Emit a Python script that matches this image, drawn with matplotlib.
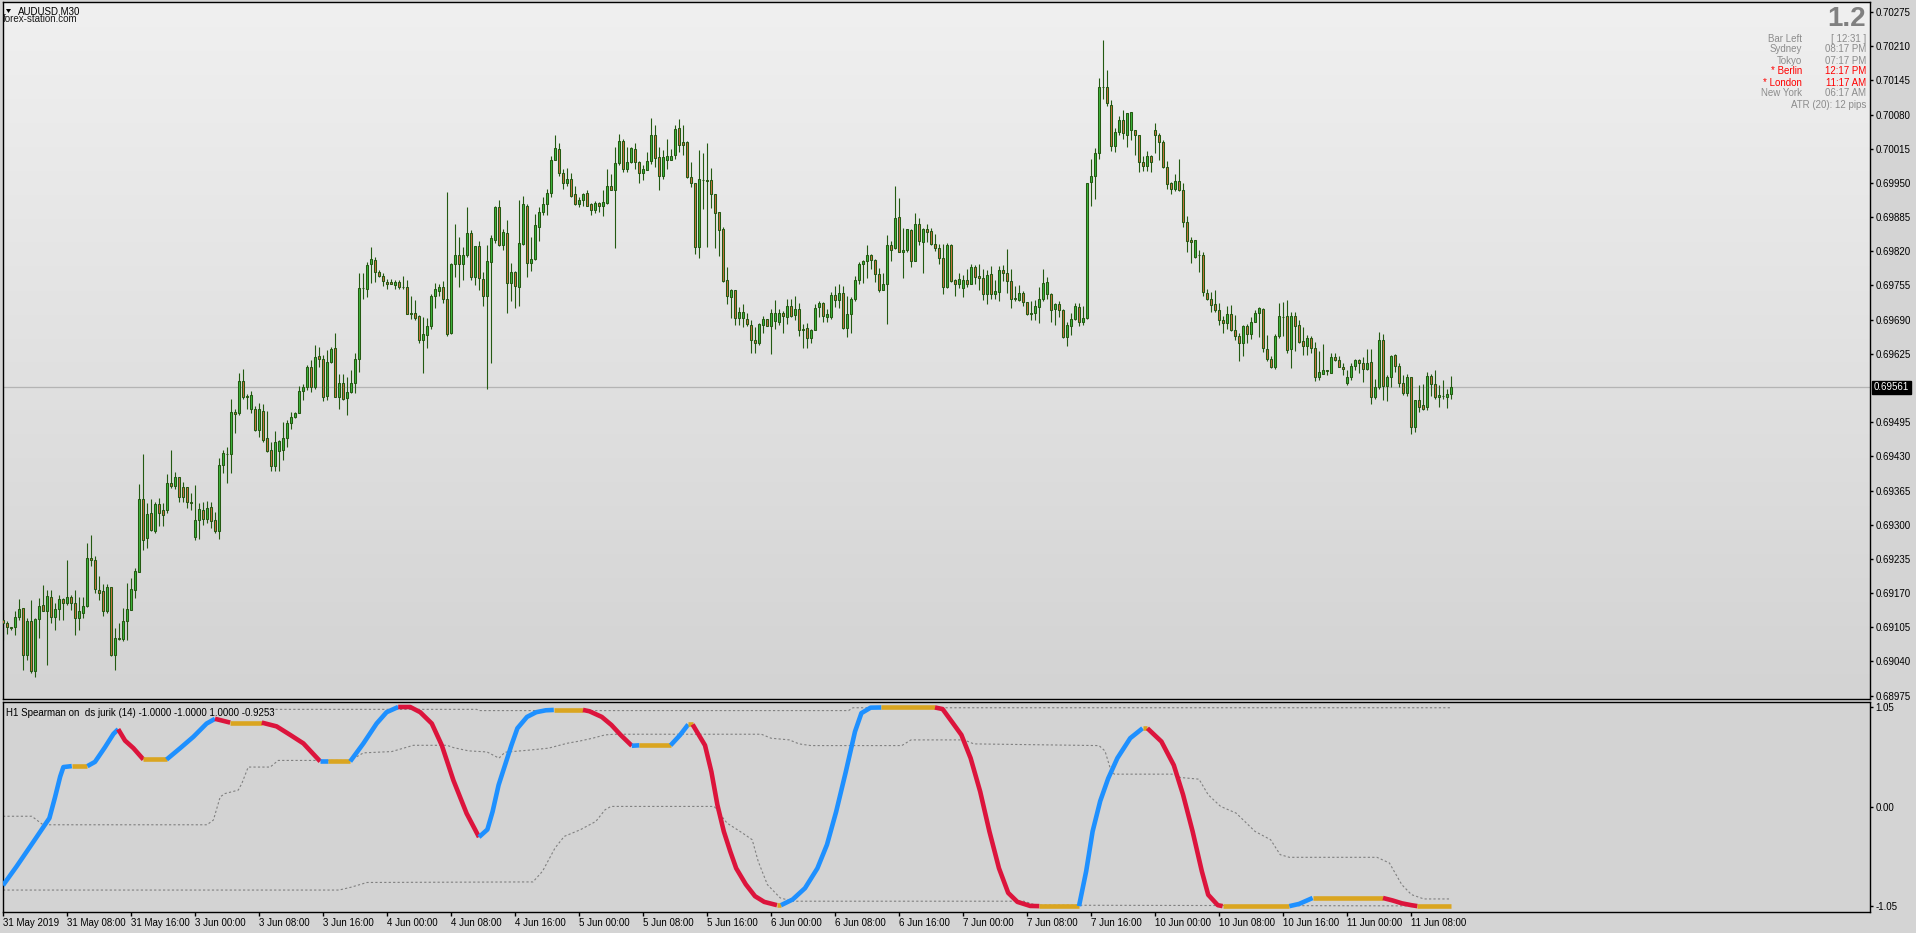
"""
AUDUSD M30 candlestick chart with an H1 Spearman (jurik) sub-window, MT4 style.
"""
import numpy as np
import matplotlib
matplotlib.use("Agg")
import matplotlib.pyplot as plt
from matplotlib.colors import LinearSegmentedColormap
from matplotlib.patches import Polygon

plt.rcParams["font.family"] = ["Liberation Sans", "DejaVu Sans"]

# ---- price data, in points (1e-5), one entry per M30 bar from 31 May 00:00 ----
opens = [
    69119, 69113, 69105, 69105, 69124, 69141, 69052, 69116, 69021, 69120,
    69147, 69136, 69162, 69124, 69139, 69159, 69151, 69163, 69152, 69122,
    69133, 69146, 69236, 69232, 69176, 69174, 69135, 69181, 69052, 69085,
    69082, 69117, 69138, 69176, 69211, 69349, 69274, 69322, 69288, 69339,
    69328, 69328, 69379, 69374, 69390, 69371, 69371, 69343, 69277, 69309,
    69328, 69310, 69333, 69309, 69289, 69413, 69434, 69434, 69515, 69512,
    69574, 69545, 69521, 69521, 69481, 69517, 69464, 69442, 69412, 69441,
    69443, 69464, 69493, 69504, 69513, 69555, 69561, 69600, 69561, 69620,
    69616, 69545, 69609, 69637, 69543, 69569, 69541, 69553, 69570, 69616,
    69750, 69749, 69795, 69804, 69780, 69773, 69762, 69762, 69756, 69762,
    69752, 69753, 69702, 69702, 69696, 69652, 69660, 69677, 69735, 69745,
    69753, 69730, 69664, 69795, 69812, 69795, 69812, 69854, 69771, 69830,
    69768, 69735, 69799, 69842, 69904, 69832, 69854, 69759, 69780, 69752,
    69833, 69907, 69798, 69805, 69867, 69895, 69909, 69931, 69994, 70015,
    69968, 69949, 69958, 69928, 69909, 69918, 69931, 69909, 69899, 69911,
    69906, 69912, 69944, 69936, 69987, 70029, 69977, 69989, 70015, 69989,
    69968, 69975, 69992, 70042, 69999, 69963, 69994, 69994, 70003, 70055,
    70027, 70027, 69961, 69949, 69828, 69956, 69956, 69955, 69928, 69894,
    69863, 69765, 69733, 69746, 69693, 69693, 69692, 69679, 69652, 69645,
    69680, 69692, 69678, 69688, 69686, 69702, 69695, 69716, 69698, 69711,
    69671, 69675, 69656, 69671, 69714, 69721, 69695, 69695, 69736, 69728,
    69740, 69674, 69700, 69730, 69766, 69795, 69801, 69812, 69803, 69776,
    69746, 69757, 69831, 69827, 69885, 69819, 69823, 69861, 69802, 69871,
    69838, 69863, 69858, 69833, 69827, 69808, 69752, 69831, 69765, 69757,
    69750, 69766, 69757, 69791, 69773, 69770, 69739, 69776, 69738, 69743,
    69784, 69779, 69763, 69730, 69728, 69740, 69723, 69700, 69702, 69714,
    69730, 69738, 69738, 69710, 69719, 69709, 69657, 69678, 69691, 69714,
    69686, 69694, 69951, 69963, 70007, 70132, 70132, 70099, 70020, 70047,
    70070, 70042, 70050, 70050, 70042, 69989, 69982, 70001, 70050, 70042,
    70027, 69980, 69949, 69939, 69954, 69937, 69875, 69841, 69809, 69812,
    69812, 69740, 69730, 69719, 69709, 69690, 69684, 69700, 69671, 69659,
    69646, 69678, 69662, 69686, 69703, 69711, 69635, 69616, 69600, 69659,
    69695, 69697, 69635, 69697, 69679, 69649, 69640, 69656, 69637, 69580,
    69587, 69594, 69589, 69618, 69613, 69599, 69569, 69581, 69601, 69613,
    69608, 69597, 69610, 69542, 69561, 69651, 69564, 69581, 69622, 69601,
    69569, 69550, 69580, 69485, 69537, 69528, 69523, 69582, 69568, 69542,
    69545, 69543, 69548,
]
highs = [
    69135, 69116, 69106, 69135, 69158, 69141, 69122, 69157, 69122, 69160,
    69185, 69176, 69176, 69151, 69166, 69160, 69233, 69166, 69176, 69163,
    69163, 69265, 69280, 69241, 69202, 69188, 69187, 69182, 69103, 69113,
    69141, 69190, 69198, 69218, 69377, 69434, 69341, 69348, 69344, 69351,
    69342, 69396, 69443, 69400, 69390, 69382, 69371, 69360, 69376, 69342,
    69344, 69345, 69344, 69325, 69426, 69443, 69448, 69540, 69521, 69588,
    69597, 69548, 69555, 69526, 69531, 69529, 69517, 69458, 69478, 69462,
    69496, 69499, 69515, 69515, 69564, 69567, 69604, 69613, 69641, 69638,
    69622, 69632, 69638, 69664, 69586, 69586, 69581, 69594, 69627, 69778,
    69778, 69799, 69828, 69809, 69785, 69778, 69768, 69768, 69765, 69765,
    69773, 69765, 69735, 69727, 69698, 69695, 69694, 69738, 69759, 69757,
    69763, 69932, 69798, 69871, 69847, 69828, 69904, 69861, 69830, 69839,
    69780, 69831, 69851, 69907, 69917, 69862, 69879, 69797, 69783, 69917,
    69926, 69909, 69847, 69890, 69904, 69924, 69939, 70001, 70041, 70025,
    69977, 69979, 69968, 69944, 69923, 69931, 69936, 69912, 69915, 69914,
    69937, 69976, 69966, 70018, 70043, 70034, 70018, 70018, 70025, 69992,
    69984, 70009, 70074, 70060, 70018, 70012, 70034, 70015, 70061, 70072,
    70061, 70029, 69989, 69949, 70012, 70006, 70025, 69979, 69928, 69894,
    69866, 69790, 69749, 69746, 69714, 69719, 69702, 69689, 69676, 69683,
    69697, 69692, 69711, 69728, 69711, 69706, 69729, 69730, 69735, 69722,
    69681, 69684, 69673, 69719, 69726, 69724, 69710, 69742, 69754, 69757,
    69754, 69735, 69733, 69773, 69799, 69803, 69831, 69814, 69806, 69789,
    69779, 69850, 69840, 69944, 69922, 69864, 69863, 69863, 69892, 69884,
    69865, 69871, 69865, 69852, 69833, 69833, 69835, 69833, 69768, 69778,
    69774, 69787, 69796, 69793, 69795, 69786, 69784, 69792, 69765, 69792,
    69793, 69824, 69787, 69754, 69755, 69744, 69723, 69726, 69727, 69752,
    69786, 69771, 69740, 69722, 69725, 69711, 69686, 69702, 69721, 69721,
    69716, 69949, 69995, 70016, 70150, 70221, 70165, 70108, 70055, 70078,
    70089, 70083, 70085, 70050, 70042, 70001, 70010, 70004, 70063, 70044,
    70031, 69991, 69952, 69966, 69995, 69949, 69887, 69847, 69841, 69822,
    69819, 69748, 69743, 69747, 69721, 69697, 69716, 69717, 69698, 69664,
    69679, 69681, 69695, 69709, 69714, 69712, 69660, 69621, 69662, 69721,
    69724, 69727, 69705, 69705, 69689, 69676, 69660, 69659, 69648, 69630,
    69643, 69594, 69627, 69627, 69621, 69608, 69594, 69608, 69616, 69615,
    69618, 69634, 69635, 69578, 69666, 69662, 69584, 69622, 69624, 69607,
    69584, 69586, 69581, 69537, 69565, 69568, 69591, 69586, 69594, 69565,
    69576, 69559, 69582,
]
lows = [
    69081, 69093, 69100, 69090, 69119, 69024, 69043, 69018, 69011, 69084,
    69135, 69033, 69114, 69100, 69119, 69118, 69147, 69138, 69090, 69100,
    69123, 69144, 69221, 69171, 69157, 69126, 69132, 69050, 69024, 69081,
    69078, 69081, 69137, 69160, 69210, 69252, 69255, 69289, 69285, 69298,
    69298, 69323, 69369, 69368, 69344, 69344, 69331, 69328, 69271, 69273,
    69299, 69304, 69293, 69284, 69273, 69399, 69380, 69399, 69474, 69508,
    69540, 69521, 69512, 69479, 69467, 69458, 69439, 69403, 69403, 69403,
    69423, 69448, 69482, 69502, 69512, 69537, 69557, 69553, 69559, 69600,
    69536, 69538, 69607, 69543, 69521, 69538, 69508, 69550, 69551, 69591,
    69730, 69733, 69760, 69762, 69771, 69754, 69749, 69757, 69748, 69749,
    69748, 69700, 69691, 69689, 69645, 69589, 69636, 69673, 69713, 69735,
    69721, 69659, 69662, 69771, 69752, 69766, 69809, 69765, 69755, 69746,
    69716, 69559, 69608, 69836, 69830, 69822, 69703, 69726, 69713, 69716,
    69831, 69771, 69783, 69804, 69840, 69889, 69889, 69923, 69993, 69963,
    69939, 69944, 69923, 69908, 69904, 69906, 69906, 69889, 69893, 69895,
    69887, 69910, 69936, 69826, 69984, 69971, 69971, 69987, 69976, 69949,
    69956, 69974, 69985, 69980, 69937, 69958, 69976, 69993, 69995, 70009,
    70004, 69960, 69942, 69814, 69807, 69901, 69828, 69902, 69826, 69811,
    69762, 69719, 69693, 69679, 69679, 69676, 69678, 69626, 69627, 69641,
    69665, 69677, 69624, 69673, 69680, 69665, 69681, 69695, 69690, 69659,
    69636, 69636, 69645, 69670, 69695, 69686, 69686, 69692, 69714, 69713,
    69672, 69657, 69665, 69726, 69757, 69759, 69769, 69787, 69761, 69743,
    69746, 69681, 69802, 69825, 69818, 69769, 69819, 69790, 69802, 69832,
    69779, 69838, 69832, 69820, 69795, 69738, 69751, 69762, 69735, 69750,
    69733, 69752, 69757, 69757, 69746, 69727, 69719, 69730, 69730, 69726,
    69764, 69740, 69712, 69725, 69725, 69716, 69698, 69689, 69690, 69684,
    69726, 69730, 69686, 69680, 69695, 69655, 69640, 69660, 69689, 69678,
    69679, 69692, 69907, 69920, 69995, 70110, 70096, 70011, 70009, 70042,
    70034, 70018, 70031, 70004, 69971, 69973, 69973, 69971, 70006, 69993,
    69979, 69938, 69928, 69935, 69935, 69866, 69819, 69798, 69808, 69781,
    69735, 69727, 69705, 69705, 69680, 69665, 69673, 69668, 69651, 69612,
    69621, 69645, 69653, 69685, 69657, 69629, 69612, 69598, 69597, 69656,
    69659, 69627, 69598, 69631, 69646, 69622, 69622, 69626, 69574, 69576,
    69586, 69584, 69588, 69611, 69599, 69584, 69565, 69576, 69595, 69589,
    69572, 69595, 69529, 69540, 69559, 69538, 69536, 69562, 69591, 69562,
    69546, 69545, 69472, 69477, 69515, 69518, 69518, 69545, 69540, 69524,
    69540, 69522, 69540,
]
closes = [
    69114, 69105, 69103, 69124, 69139, 69052, 69117, 69021, 69120, 69145,
    69136, 69164, 69124, 69139, 69158, 69151, 69163, 69152, 69122, 69136,
    69146, 69236, 69232, 69177, 69171, 69136, 69181, 69052, 69084, 69082,
    69117, 69139, 69177, 69212, 69349, 69271, 69320, 69290, 69339, 69322,
    69318, 69379, 69374, 69390, 69353, 69353, 69343, 69341, 69309, 69329,
    69310, 69331, 69308, 69288, 69413, 69436, 69435, 69515, 69510, 69574,
    69542, 69542, 69546, 69481, 69520, 69461, 69441, 69412, 69457, 69459,
    69464, 69493, 69504, 69513, 69555, 69561, 69600, 69561, 69619, 69616,
    69543, 69609, 69635, 69543, 69570, 69540, 69553, 69570, 69616, 69750,
    69750, 69793, 69806, 69781, 69773, 69764, 69758, 69758, 69762, 69752,
    69752, 69701, 69701, 69693, 69652, 69662, 69677, 69735, 69748, 69752,
    69730, 69662, 69795, 69812, 69795, 69813, 69854, 69771, 69830, 69770,
    69735, 69801, 69845, 69904, 69831, 69856, 69759, 69780, 69754, 69835,
    69909, 69798, 69806, 69869, 69895, 69909, 69931, 69994, 70017, 69968,
    69949, 69958, 69925, 69909, 69917, 69929, 69907, 69899, 69911, 69906,
    69913, 69944, 69937, 69987, 70029, 69977, 69989, 70016, 69989, 69968,
    69977, 69992, 70042, 69998, 69963, 69999, 70002, 70002, 70053, 70023,
    70022, 69961, 69950, 69828, 69957, 69956, 69954, 69928, 69893, 69860,
    69764, 69735, 69746, 69693, 69705, 69704, 69681, 69652, 69645, 69681,
    69692, 69678, 69702, 69702, 69702, 69697, 69716, 69697, 69711, 69671,
    69671, 69656, 69670, 69713, 69721, 69697, 69700, 69736, 69728, 69740,
    69674, 69700, 69730, 69766, 69795, 69801, 69812, 69803, 69776, 69747,
    69757, 69831, 69823, 69884, 69819, 69823, 69862, 69802, 69871, 69840,
    69863, 69857, 69833, 69826, 69808, 69752, 69831, 69764, 69757, 69768,
    69766, 69757, 69791, 69771, 69769, 69739, 69774, 69739, 69744, 69784,
    69779, 69763, 69730, 69730, 69740, 69723, 69700, 69703, 69716, 69730,
    69759, 69761, 69709, 69719, 69709, 69657, 69679, 69691, 69716, 69685,
    69694, 69949, 69963, 70006, 70132, 70132, 70101, 70020, 70047, 70070,
    70044, 70082, 70084, 70042, 69989, 69982, 70001, 69989, 70042, 70027,
    69980, 69947, 69939, 69954, 69936, 69875, 69840, 69838, 69841, 69812,
    69742, 69730, 69717, 69708, 69690, 69683, 69700, 69671, 69659, 69646,
    69678, 69662, 69686, 69702, 69712, 69636, 69616, 69600, 69659, 69697,
    69695, 69633, 69697, 69677, 69648, 69640, 69656, 69636, 69580, 69590,
    69594, 69592, 69618, 69613, 69600, 69597, 69580, 69601, 69613, 69608,
    69597, 69608, 69542, 69561, 69652, 69564, 69581, 69621, 69601, 69569,
    69550, 69580, 69485, 69537, 69524, 69520, 69582, 69568, 69542, 69546,
    69545, 69548, 69561,
]

# right price scale
price_ticks = [0.70275, 0.70210, 0.70145, 0.70080, 0.70015, 0.69950, 0.69885,
               0.69820, 0.69755, 0.69690, 0.69625, 0.69495, 0.69430, 0.69365,
               0.69300, 0.69235, 0.69170, 0.69105, 0.69040, 0.68975]

# time axis labels (bar index of each label)
time_bars = [0, 16, 32, 48, 64, 80, 96, 112, 128, 144, 160, 176, 192, 208,
             224, 240, 256, 272, 288, 304, 320, 336, 352]
time_labels = ["31 May 2019", "31 May 08:00", "31 May 16:00", "3 Jun 00:00",
               "3 Jun 08:00", "3 Jun 16:00", "4 Jun 00:00", "4 Jun 08:00",
               "4 Jun 16:00", "5 Jun 00:00", "5 Jun 08:00", "5 Jun 16:00",
               "6 Jun 00:00", "6 Jun 08:00", "6 Jun 16:00", "7 Jun 00:00",
               "7 Jun 08:00", "7 Jun 16:00", "10 Jun 00:00", "10 Jun 08:00",
               "10 Jun 16:00", "11 Jun 00:00", "11 Jun 08:00"]

# ---- Spearman indicator (vertices in bar units) ----
sp_bar = [0.0, 3.4, 7.6, 11.6, 13.0, 14.3, 15.1, 17.2, 21.1, 23.0,
          25.5, 27.6, 28.8, 30.5, 32.6, 35.1, 40.9, 44.3, 47.6, 50.9,
          53.0, 56.8, 64.7, 68.4, 71.8, 75.1, 79.3, 81.3, 86.8, 90.1,
          93.4, 95.9, 98.8, 101.8, 104.3, 107.2, 109.7, 112.6, 115.9, 119.0,
          121.1, 122.4, 123.9, 125.5, 127.1, 128.6, 131.0, 133.3, 135.7, 137.7,
          145.0, 146.6, 149.7, 152.1, 154.4, 157.2, 159.1, 166.9, 169.3, 171.3,
          172.4, 175.5, 177.1, 178.6, 180.2, 181.8, 183.3, 185.7, 188.0, 190.3,
          193.5, 194.5, 197.4, 200.5, 203.6, 206.0, 208.3, 210.7, 213.0, 214.6,
          216.9, 219.6, 233.0, 234.9, 237.2, 239.6, 241.9, 244.3, 246.6, 249.0,
          251.3, 253.6, 256.8, 259.1, 269.0, 270.8, 272.4, 274.3, 276.3, 278.6,
          281.8, 284.9, 286.1, 289.6, 292.7, 295.0, 297.4, 299.7, 301.3, 303.7,
          304.9, 321.6, 324.0, 327.4, 345.0, 347.4, 349.7, 352.1, 353.6, 362.0]
sp_val = [-0.83, -0.63, -0.37, -0.12, 0.10, 0.32, 0.42, 0.43, 0.43, 0.475,
          0.63, 0.77, 0.82, 0.70, 0.62, 0.50, 0.50, 0.62, 0.74, 0.88,
          0.93, 0.89, 0.89, 0.85, 0.76, 0.67, 0.48, 0.48, 0.48, 0.67,
          0.88, 1.00, 1.055, 1.055, 1.00, 0.88, 0.65, 0.28, -0.07, -0.32,
          -0.24, -0.05, 0.23, 0.44, 0.65, 0.83, 0.95, 1.00, 1.02, 1.024,
          1.024, 1.01, 0.95, 0.865, 0.76, 0.645, 0.65, 0.65, 0.76, 0.87,
          0.87, 0.65, 0.37, 0.02, -0.26, -0.47, -0.65, -0.82, -0.945, -1.005,
          -1.04, -1.04, -0.98, -0.86, -0.65, -0.40, -0.05, 0.37, 0.795, 0.99,
          1.048, 1.05, 1.05, 1.033, 0.90, 0.76, 0.515, 0.16, -0.26, -0.65,
          -0.91, -1.005, -1.048, -1.05, -1.05, -0.68, -0.26, 0.06, 0.30, 0.515,
          0.725, 0.83, 0.83, 0.69, 0.44, 0.13, -0.26, -0.68, -0.93, -1.04,
          -1.05, -1.05, -1.027, -0.964, -0.964, -0.99, -1.02, -1.04, -1.05, -1.05]
# state of each segment: b = rising, r = falling, o = flat
sp_state = ("bbbbbbb" "o" "bbbb" "rrr" "o" "bbbb" "r" "o" "rrrr" "b" "o" "bbbb"
            "rrrrrrr" "bbbbbbbbbb" "o" "rrrrr" "b" "o" "bb" "o" "rrrrrrrrrr" "o"
            "bbbbbbbbbb" "o" "rrrrrrrrrrr" "o" "bbbbbbb" "o" "rrrrrrrr" "o" "bb"
            "o" "rrrr" "o")

# dotted level lines
top_bar = [65.9, 118.4, 119.0, 211.4, 212.5, 362]
top_val = [1.03, 1.03, 1.017, 1.017, 1.047, 1.047]
mid_bar = [0, 7.2, 10, 51, 52.6, 54.3, 55.5, 58.8, 59.7, 61.3,
           66.8, 68.8, 86.8, 90.1, 97.2, 102.6, 111, 112.6, 116.4, 121,
           124, 125.5, 131.8, 136.4, 141.1, 144.3, 147.4, 150.5, 152.8, 189.6,
           192, 196.6, 199, 202, 224.7, 227, 240.3, 242.7, 274, 275.5,
           276.8, 277.8, 292.7, 294.3, 299, 301.3, 304.4, 308.3, 313, 316.9,
           319.3, 321.6, 343.5, 346.6, 349.7, 352.1, 355.2, 362]
mid_val = [-0.10, -0.10, -0.19, -0.19, -0.14, 0.105, 0.14, 0.176, 0.246, 0.42,
           0.42, 0.49, 0.49, 0.57, 0.584, 0.65, 0.65, 0.626, 0.591, 0.58,
           0.514, 0.577, 0.60, 0.62, 0.672, 0.696, 0.725, 0.76, 0.767, 0.767,
           0.725, 0.707, 0.665, 0.647, 0.647, 0.707, 0.707, 0.665, 0.647, 0.59,
           0.408, 0.345, 0.345, 0.31, 0.292, 0.127, 0.004, -0.067, -0.26, -0.348,
           -0.506, -0.534, -0.534, -0.594, -0.823, -0.928, -0.974, -0.974]
low_bar = [0, 84, 87, 91, 132.5, 134.9, 138, 140.3, 144.3, 148.2, 150.5, 152,
           177.8, 181, 184.9, 187.3, 188.8, 191.1, 194.3, 197.4, 255.2, 258.3, 362]
low_val = [-0.88, -0.88, -0.85, -0.80, -0.794, -0.68, -0.436, -0.313, -0.243,
           -0.155, -0.032, 0.004, 0.004, -0.172, -0.278, -0.348, -0.577, -0.823,
           -0.963, -0.998, -0.998, -1.04, -1.048]

# ---- figure / layout in pixels ----
W, H = 1916, 933
fig = plt.figure(figsize=(W / 100, H / 100), dpi=100, facecolor="#d4d4d4")


def axes_px(x0, y0, x1, y1):
    return fig.add_axes([x0 / W, 1 - y1 / H, (x1 - x0) / W, (y1 - y0) / H])


def ftext(x, y, s, **kw):
    fig.text(x / W, 1 - y / H, s, **kw)


ax = axes_px(2.5, 2, 1870, 699)
ax2 = axes_px(2.5, 701.5, 1870, 912)
FS = 7.0

o = np.array(opens) / 1e5
h = np.array(highs) / 1e5
l = np.array(lows) / 1e5
c = np.array(closes) / 1e5
bars = np.arange(len(o))

# background gradient of the main window
bg = LinearSegmentedColormap.from_list("bg", ["#f0f0f0", "#d3d3d3"])
ax.imshow(np.linspace(0, 1, 256).reshape(-1, 1), cmap=bg, aspect="auto",
          extent=(0, 1, 0, 1), transform=ax.transAxes, zorder=0)

EDGE = "#245a12"
up = c >= o
body_col = np.where(up, "#3cb43c", "#c8703c")
ax.vlines(bars, l, h, color=EDGE, lw=0.8, zorder=2)
ax.bar(bars, np.maximum(np.abs(c - o), 0.000004), bottom=np.minimum(o, c),
       width=0.5, color=body_col, edgecolor=EDGE, linewidth=0.75, zorder=3)

last = c[-1]
ax.axhline(last, color="#b4b4b4", lw=0.9, zorder=1)

ax.set_xlim(-0.125, 466.75)
ax.set_ylim(0.689686, 0.70294)
ax.set_xticks([])
ax.yaxis.tick_right()
ax.set_yticks(price_ticks)
ax.set_yticklabels([f"{p:.5f}" for p in price_ticks])
ax.tick_params(axis="y", direction="out", length=2.5, width=1, pad=1.2,
               labelsize=FS, colors="black")
ax.annotate(f"{last:.5f}", xy=(1, last), xycoords=("axes fraction", "data"),
            xytext=(2.5, 0), textcoords="offset points", ha="left", va="center",
            fontsize=FS, color="white", annotation_clip=False,
            bbox=dict(boxstyle="square,pad=0.2", fc="black", ec="black"))

# ---- indicator window ----
ax2.set_facecolor("#d3d3d3")
dot = dict(color="#808080", lw=0.8, ls=(0, (2, 2)), zorder=2)
ax2.plot(top_bar, top_val, **dot)
ax2.plot(mid_bar, mid_val, **dot)
ax2.plot(low_bar, low_val, **dot)

state_col = {"b": "#1e90ff", "r": "#dc143c", "o": "#daa520"}
start = 0
for k in range(1, len(sp_state) + 1):
    if k == len(sp_state) or sp_state[k] != sp_state[start]:
        ax2.plot(sp_bar[start:k + 1], sp_val[start:k + 1],
                 color=state_col[sp_state[start]], lw=3.3,
                 solid_capstyle="butt", solid_joinstyle="round", zorder=3)
        start = k

ax2.set_xlim(-0.125, 466.75)
ax2.set_ylim(-1.112, 1.113)
ax2.yaxis.tick_right()
ax2.set_yticks([1.05, 0.0, -1.05])
ax2.set_yticklabels(["1.05", "0.00", "-1.05"])
ax2.tick_params(axis="y", direction="out", length=2.5, width=1, pad=1.2,
                labelsize=FS, colors="black")
ax2.set_xticks(time_bars)
ax2.set_xticklabels(time_labels)
for lab in ax2.get_xticklabels():
    lab.set_horizontalalignment("left")
ax2.tick_params(axis="x", direction="out", length=3, width=1, pad=1.5,
                labelsize=FS, colors="black")
ax2.text(0.0018, 0.943, "H1 Spearman on  ds jurik (14) -1.0000 -1.0000 1.0000 -0.9253",
         transform=ax2.transAxes, fontsize=FS, color="black", va="center", ha="left")

for a in (ax, ax2):
    for sp in a.spines.values():
        sp.set_color("black")
        sp.set_linewidth(1.0)

# ---- header texts ----
fig.patches.append(Polygon([(6 / W, 1 - 9 / H), (11 / W, 1 - 9 / H), (8.5 / W, 1 - 13 / H)],
                           closed=True, transform=fig.transFigure, fc="black", ec="none"))
ftext(18, 11, "AUDUSD,M30", fontsize=FS, color="black", va="center")
ftext(3, 19, "forex-station.com", fontsize=FS, color="#1a1a1a", va="center")

GREY = "#8c8c8c"
ftext(1866, 19, "1.2", fontsize=20, fontweight="bold", color="#808080", ha="right", va="center")
info = [("Bar Left", "[ 12:31 ]", GREY), ("Sydney", "08:17 PM", GREY),
        ("Tokyo", "07:17 PM", GREY), ("* Berlin", "12:17 PM", "#ff0000"),
        ("* London", "11:17 AM", "#ff0000"), ("New York", "06:17 AM", GREY)]
for k, (name, val, col) in enumerate(info):
    y = 38.5 + k * 11
    ftext(1802, y, name, fontsize=FS, color=col, ha="right", va="center")
    ftext(1866, y, val, fontsize=FS, color=col, ha="right", va="center")
ftext(1866, 105, "ATR (20): 12 pips", fontsize=FS, color=GREY, ha="right", va="center")

fig.savefig("out.png", dpi=100, facecolor=fig.get_facecolor())
plt.close(fig)
